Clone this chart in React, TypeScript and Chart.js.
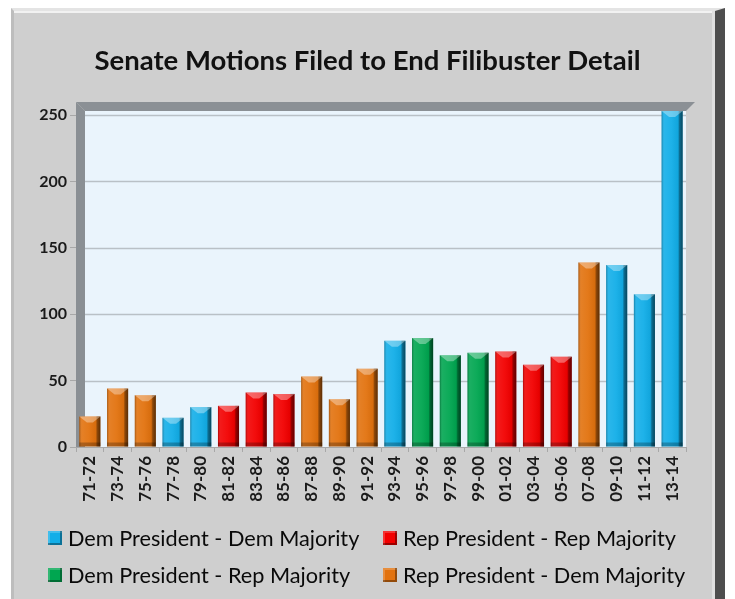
import React, { useEffect, useRef } from 'react';
import { Chart, registerables } from 'chart.js';

Chart.register(...registerables);

const TITLE = 'Senate Motions Filed to End Filibuster Detail';

const categories = [
  '71-72', '73-74', '75-76', '77-78', '79-80', '81-82', '83-84', '85-86', '87-88', '89-90', '91-92',
  '93-94', '95-96', '97-98', '99-00', '01-02', '03-04', '05-06', '07-08', '09-10', '11-12', '13-14',
];

const motions = [23, 44, 39, 22, 30, 31, 41, 40, 53, 36, 59, 80, 82, 69, 71, 72, 62, 68, 139, 137, 115, 253];

const control = [
  'RD', 'RD', 'RD', 'DD', 'DD', 'RR', 'RR', 'RR', 'RD', 'RD', 'RD',
  'DD', 'DR', 'DR', 'DR', 'RR', 'RR', 'RR', 'RD', 'DD', 'DD', 'DD',
];

const groupKeys = ['DD', 'RR', 'DR', 'RD'];
const groupNames = [
  'Dem President - Dem Majority',
  'Rep President - Rep Majority',
  'Dem President - Rep Majority',
  'Rep President - Dem Majority',
];
const groupColors = ['#12AEE8', '#F20000', '#00A650', '#E2720E'];

const yTicks = [0, 50, 100, 150, 200, 250];

const FONT = 'Lato, "Open Sans", sans-serif';

const wallPlugin = {
  id: 'walls',
  beforeDraw(chart: any) {
    const { ctx, chartArea: ca } = chart;
    const d = 9;
    const wallTop = ca.top - 13;
    ctx.save();
    ctx.fillStyle = '#EAF4FC';
    ctx.fillRect(ca.left + d, wallTop + d, ca.right - ca.left - d, ca.bottom - wallTop - d);
    ctx.fillStyle = '#8B9095';
    ctx.beginPath();
    ctx.moveTo(ca.left, wallTop);
    ctx.lineTo(ca.right + d, wallTop);
    ctx.lineTo(ca.right, wallTop + d);
    ctx.lineTo(ca.left + d, wallTop + d);
    ctx.closePath();
    ctx.fill();
    ctx.fillStyle = '#8A8F94';
    ctx.beginPath();
    ctx.moveTo(ca.left, wallTop);
    ctx.lineTo(ca.left + d, wallTop + d);
    ctx.lineTo(ca.left + d, ca.bottom);
    ctx.lineTo(ca.left, ca.bottom);
    ctx.closePath();
    ctx.fill();
    const ys = chart.scales.y;
    ctx.strokeStyle = '#B9C0C6';
    ctx.lineWidth = 1.5;
    ys.ticks.forEach((t: any) => {
      if (t.value === 0) return;
      const py = Math.round(ys.getPixelForValue(t.value)) + 0.5;
      ctx.beginPath();
      ctx.moveTo(ca.left + d, py);
      ctx.lineTo(ca.right, py);
      ctx.stroke();
    });
    ctx.restore();
  },
};

const shadePlugin = {
  id: 'shade',
  afterDatasetsDraw(chart: any) {
    const { ctx } = chart;
    ctx.save();
    chart.data.datasets.forEach((ds: any, di: number) => {
      const meta = chart.getDatasetMeta(di);
      meta.data.forEach((bar: any, i: number) => {
        if (ds.data[i] == null) return;
        const { x, y, base, width } = bar.getProps(['x', 'y', 'base', 'width'], true);
        const l = x - width / 2;
        const r = x + width / 2;
        const g = ctx.createLinearGradient(l, 0, r, 0);
        g.addColorStop(0, 'rgba(0,0,0,0.28)');
        g.addColorStop(0.12, 'rgba(255,255,255,0.10)');
        g.addColorStop(0.45, 'rgba(255,255,255,0.05)');
        g.addColorStop(0.78, 'rgba(0,0,0,0.05)');
        g.addColorStop(0.85, 'rgba(0,0,0,0.38)');
        g.addColorStop(1, 'rgba(0,0,0,0.6)');
        ctx.fillStyle = g;
        ctx.fillRect(l, y, width, base - y);
        ctx.fillStyle = 'rgba(255,255,255,0.35)';
        ctx.beginPath();
        ctx.moveTo(l, y);
        ctx.lineTo(r, y);
        ctx.lineTo(x + 3, y + 6);
        ctx.lineTo(x - 3, y + 6);
        ctx.closePath();
        ctx.fill();
        ctx.fillStyle = 'rgba(0,0,0,0.25)';
        ctx.fillRect(l, base - 4, width, 4);
      });
    });
    ctx.restore();
  },
};

function App() {
  const ref = useRef<HTMLCanvasElement | null>(null);

  useEffect(() => {
    if (!ref.current) return;
    const datasets = groupKeys.map((key, gi) => ({
      label: groupNames[gi],
      data: motions.map((v, i) => (control[i] === key ? v : null)),
      backgroundColor: groupColors[gi],
      borderWidth: 0,
      grouped: false,
      clip: false,
      barPercentage: 0.76,
      categoryPercentage: 1,
      yAxisID: 'y',
    }));
    const chart = new Chart(ref.current, {
      type: 'bar',
      data: { labels: categories, datasets },
      plugins: [wallPlugin, shadePlugin],
      options: {
        animation: false,
        responsive: false,
        maintainAspectRatio: false,
        layout: { padding: { left: 0, right: 0, top: 0, bottom: 97 } },
        plugins: {
          legend: { display: false },
          tooltip: { enabled: false },
          title: {
            display: true,
            text: TITLE,
            color: '#111',
            font: { family: FONT, size: 27.5, weight: 'bold', lineHeight: 1.2 },
            padding: { top: 45, bottom: 37 },
          },
        },
        scales: {
          x: {
            afterFit: (s: any) => { s.height = 55; },
            grid: { display: true, drawOnChartArea: false, drawTicks: true, tickLength: 5, color: '#A8A8A8', offset: true },
            border: { display: true, color: '#A8A8A8', width: 1 },
            ticks: {
              color: '#1A1A1A',
              font: { family: FONT, size: 17, weight: 'bold' },
              minRotation: 90,
              maxRotation: 90,
              autoSkip: false,
              padding: 4,
            },
          },
          y: {
            min: 0,
            max: 250,
            afterFit: (s: any) => { s.width = 76; },
            afterBuildTicks: (s: any) => { s.ticks = yTicks.map((v) => ({ value: v })); },
            grid: { display: true, drawOnChartArea: false, drawTicks: true, tickLength: 6, color: '#A8A8A8' },
            border: { display: false },
            ticks: {
              color: '#1A1A1A',
              font: { family: FONT, size: 16, weight: 'bold' },
              padding: 3,
            },
          },
          yR: {
            position: 'right',
            display: true,
            min: 0,
            max: 250,
            afterFit: (s: any) => { s.width = 49; },
            grid: { display: false, drawTicks: false },
            border: { display: false },
            ticks: { display: false },
          },
        },
      },
    });
    return () => chart.destroy();
  }, []);

  const legendItem = (gi: number, left: number, top: number) => (
    <div
      key={gi}
      style={{ position: 'absolute', left, top, height: 28, display: 'flex', alignItems: 'center', whiteSpace: 'nowrap' }}
    >
      <span
        style={{
          display: 'inline-block', width: 14, height: 14, marginRight: 6,
          background: groupColors[gi],
          boxShadow: 'inset -2px -2px 0 rgba(0,0,0,0.35), inset 2px 2px 0 rgba(255,255,255,0.2)',
        }}
      />
      <span style={{ fontFamily: FONT, fontSize: 21.7, color: '#0A0A0A' }}>{groupNames[gi]}</span>
    </div>
  );

  return (
    <div style={{ position: 'fixed', left: 0, top: 0, width: 735, height: 599, background: '#fff', overflow: 'hidden' }}>
      <div
        style={{
          position: 'absolute', left: 11, top: 8, width: 714, height: 600, boxSizing: 'border-box',
          background: '#CFCFCF',
          borderTop: '3px solid #E4E4E4',
          borderLeft: '3px solid #BDBDBD',
          borderRight: '10px solid #4E4E4E',
          boxShadow: 'inset -3px 0 0 #E0E0E0, inset 0 2px 0 #F2F2F2',
        }}
      />
      <canvas ref={ref} width={735} height={599} style={{ position: 'absolute', left: 0, top: 0, width: 735, height: 599 }} />
      {legendItem(0, 48, 524)}
      {legendItem(1, 383, 524)}
      {legendItem(2, 48, 561)}
      {legendItem(3, 383, 561)}
    </div>
  );
}

export default App;
